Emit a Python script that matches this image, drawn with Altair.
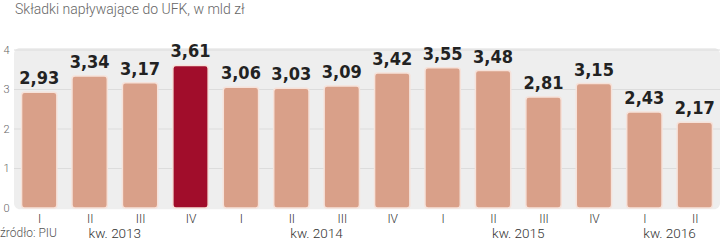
import altair as alt
import pandas as pd

values = [2.93, 3.34, 3.17, 3.61, 3.06, 3.03, 3.09, 3.42, 3.55, 3.48, 2.81, 3.15, 2.43, 2.17]
quarters = ["I", "II", "III", "IV", "I", "II", "III", "IV", "I", "II", "III", "IV", "I", "II"]
highlight = [False, False, False, True, False, False, False, False, False, False, False, False, False, False]
year_labels = ["kw. 2013", "kw. 2014", "kw. 2015", "kw. 2016"]
year_pos = [1.5, 5.5, 9.5, 12.5]
y_ticks = [0, 1, 2, 3, 4]

df = pd.DataFrame({
    "idx": list(range(len(values))),
    "value": values,
    "q": quarters,
    "hl": ["tak" if h else "nie" for h in highlight],
})
df["x0"] = df["idx"] - 0.35
df["x1"] = df["idx"] + 0.35
df["label"] = [f"{v:.2f}".replace(".", ",") for v in values]

ydf = pd.DataFrame({"pos": year_pos, "txt": year_labels})
gdf = pd.DataFrame({"g": y_ticks[1:]})

label_expr = "[" + ",".join(f"'{q}'" for q in quarters) + "][datum.value]"

xscale = alt.Scale(domain=[-0.5, 13.5], nice=False, zero=False)
yscale = alt.Scale(domain=[0, 4], nice=False)

yaxis = alt.Axis(values=y_ticks, title=None, domain=False, ticks=False, grid=False,
                 labelPadding=5, labelFontSize=11, labelColor="#666666",
                 labelFont="Roboto", labelFontWeight=300, labelOverlap=False,
                 labelBound=False, labelFlush=False)
xaxis = alt.Axis(values=list(range(14)), labelExpr=label_expr, title=None,
                 grid=False, domain=False, ticks=False, labelPadding=5,
                 labelFontSize=12, labelColor="#333333", labelFont="Roboto",
                 labelFontWeight=300, labelFlush=False, labelOverlap=False)

bg = alt.Chart(pd.DataFrame({"a": [0]})).mark_rect(cornerRadius=6, color="#eeeeee").encode(
    x=alt.X(datum=-0.5, scale=xscale, axis=xaxis),
    x2=alt.datum(13.5),
    y=alt.Y(datum=-0.03, scale=yscale, axis=yaxis),
    y2=alt.datum(4.05),
)

grid = alt.Chart(gdf).mark_rule(color="#dcdcdc", strokeWidth=1).encode(
    y=alt.Y("g:Q", scale=yscale, axis=yaxis),
)

bars = alt.Chart(df).mark_bar(cornerRadius=3, stroke="#f6e2da", strokeWidth=1.5).encode(
    x=alt.X("x0:Q", scale=xscale, axis=xaxis),
    x2="x1:Q",
    y=alt.Y("value:Q", scale=yscale, axis=yaxis),
    y2=alt.datum(0),
    color=alt.Color("hl:N", scale=alt.Scale(domain=["nie", "tak"], range=["#d9a089", "#a10d2b"]),
                    legend=None),
)

texts = alt.Chart(df).mark_text(
    baseline="bottom", dy=-4, fontSize=18, fontWeight="bold",
    font="Liberation Sans Narrow, DejaVu Sans Condensed, sans-serif", color="#222222"
).encode(
    x=alt.X("idx:Q", scale=xscale, axis=xaxis),
    y=alt.Y("value:Q", scale=yscale, axis=yaxis),
    text="label:N",
)

years = alt.Chart(ydf).mark_text(
    baseline="alphabetic", fontSize=13.5, font="Roboto", fontWeight=300, color="#333333"
).encode(
    x=alt.X("pos:Q", scale=xscale, axis=xaxis),
    y=alt.value(187.5),
    text="txt:N",
)

source = alt.Chart(pd.DataFrame({"t": ["źródło: PIU"]})).mark_text(
    align="left", baseline="alphabetic", fontSize=12, font="Roboto", fontWeight=300, color="#555555"
).encode(
    x=alt.value(-14),
    y=alt.value(187),
    text="t:N",
)

chart = alt.layer(bg, grid, bars, texts, years, source).properties(
    width=706,
    height=158,
    autosize=alt.AutoSizeParams(type="none"),
    padding={"left": 14, "top": 50, "right": 0, "bottom": 34},
    title=alt.Title("Składki napływające do UFK, w mld zł", anchor="start", offset=26,
                    fontSize=14, font="Roboto", fontWeight=300, color="#666666", dx=15),
).configure(background="white").configure_view(strokeWidth=0)

chart.save("out.html", embed_options={"renderer": "svg", "actions": False})
